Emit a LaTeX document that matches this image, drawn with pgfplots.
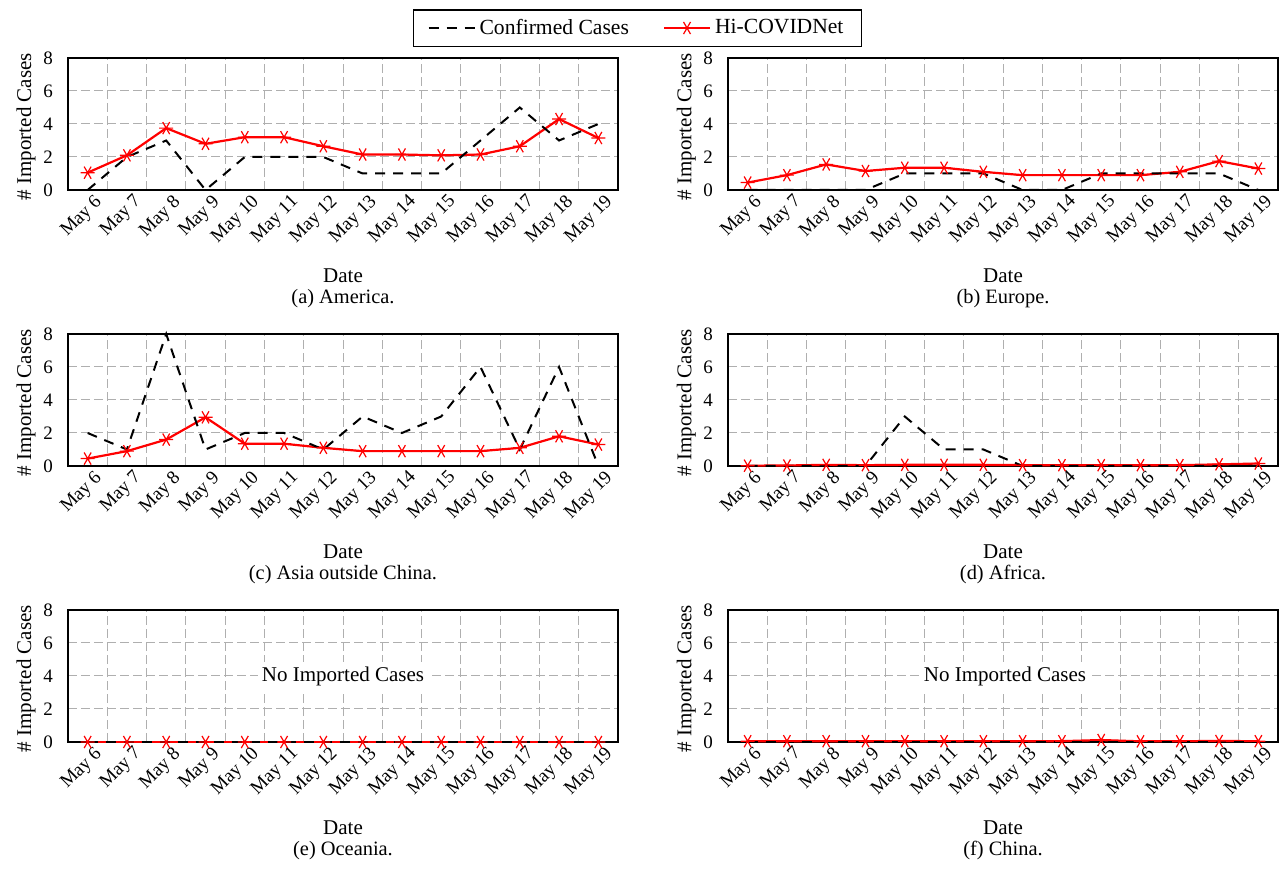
\documentclass[border=0pt]{standalone}
\usepackage{pgfplots}
\pgfplotsset{compat=1.18}
\usepackage{fontspec}
\setmainfont{Liberation Serif}
\definecolor{gridgray}{RGB}{175,175,175}

\pgfplotsset{
  panel/.style={
    scale only axis, width=275pt, height=66pt,
    anchor=south west,
    xmin=-0.5, xmax=13.5, ymin=0, ymax=8,
    xtick={0,...,13},
    xticklabels={May 6,May 7,May 8,May 9,May 10,May 11,May 12,May 13,May 14,May 15,May 16,May 17,May 18,May 19},
    ytick={0,2,4,6,8},
    minor xtick={0.5,1.5,...,12.5},
    xminorgrids=true, ymajorgrids=true,
    major grid style={gridgray, dash pattern=on 4.5pt off 2pt, line width=0.5pt},
    minor grid style={gridgray, dash pattern=on 4.5pt off 2pt, line width=0.5pt},
    major tick length=0pt, minor tick length=0pt,
    tick label style={font=\fontsize{9.5}{11}\selectfont},
    /pgf/number format/assume math mode=true,
    xticklabel style={rotate=45, anchor=north east, inner sep=1pt, yshift=-2pt, xshift=2pt},
    yticklabel style={xshift=-4pt},
    ylabel={\# Imported Cases},
    label style={font=\fontsize{10.5}{12}\selectfont},
    ylabel style={at={(axis description cs:-0.076,0.48)}, anchor=center},
    axis line style={line width=0.8pt},
    clip=false,
  },
  conf/.style={black, line width=1pt, dash pattern=on 5pt off 4pt, mark=none},
  hic/.style={red, line width=1.1pt, mark=asterisk, mark size=3.5pt, mark options={solid, rotate=90, line width=0.6pt}},
}
\newcommand{\panelcap}[1]{%
  \node[font=\fontsize{10.5}{12}\selectfont] at (axis description cs:0.5,-0.65) {Date};
  \node[font=\fontsize{10.2}{12}\selectfont] at (axis description cs:0.5,-0.82) {#1};}

\pgfplotstableread{
x a_c a_h b_c b_h c_c c_h d_c d_h e_c e_h f_c f_h
0  0 1.05 0 0.45 2 0.45 0 0.02 0 0 0 0.05
1  2 2.10 0 0.90 1 0.90 0 0.03 0 0 0 0.05
2  3 3.75 0 1.55 8 1.60 0 0.07 0 0 0 0.05
3  0 2.80 0 1.15 1 2.95 0 0.05 0 0 0 0.05
4  2 3.20 1 1.35 2 1.35 3 0.07 0 0 0 0.05
5  2 3.20 1 1.35 2 1.35 1 0.07 0 0 0 0.05
6  2 2.65 1 1.10 1 1.10 1 0.07 0 0 0 0.05
7  1 2.15 0 0.90 3 0.90 0 0.05 0 0 0 0.05
8  1 2.15 0 0.90 2 0.90 0 0.05 0 0 0 0.05
9  1 2.10 1 0.90 3 0.90 0 0.05 0 0 0 0.12
10 3 2.15 1 0.90 6 0.90 0 0.05 0 0 0 0.04
11 5 2.65 1 1.10 1 1.10 0 0.05 0 0 0 0.05
12 3 4.30 1 1.75 6 1.80 0 0.10 0 0 0 0.06
13 4 3.15 0 1.30 0 1.30 0 0.15 0 0 0 0.05
}\data

\begin{document}
\begin{tikzpicture}
\useasboundingbox (0,0) rectangle (640.5pt,-435.5pt);

% (a) America
\begin{axis}[panel, at={(34pt,-95pt)},
  reverse legend,
  legend columns=2,
  legend style={at={(axis description cs:1.0355,1.227)}, anchor=center,
    draw=black, line width=0.6pt, font=\fontsize{10.8}{12}\selectfont,
    inner xsep=7pt, inner ysep=2.5pt,
    /tikz/every even column/.append style={column sep=15pt}},
  legend image code/.code={\draw[#1, mark repeat=2, mark phase=2] plot coordinates {(0pt,0pt) (11.5pt,0pt) (23pt,0pt)};}
  ]
\addplot[hic] table[x=x,y=a_h]{\data};
\addlegendentry{Hi-COVIDNet}
\addplot[conf] table[x=x,y=a_c]{\data};
\addlegendentry{Confirmed Cases}
\panelcap{(a) America.}
\end{axis}

% (b) Europe
\begin{axis}[panel, at={(364pt,-95pt)}]
\addplot[hic] table[x=x,y=b_h]{\data};
\addplot[conf] table[x=x,y=b_c]{\data};
\panelcap{(b) Europe.}
\end{axis}

% (c) Asia
\begin{axis}[panel, at={(34pt,-233pt)}]
\addplot[hic] table[x=x,y=c_h]{\data};
\addplot[conf] table[x=x,y=c_c]{\data};
\panelcap{(c) Asia outside China.}
\end{axis}

% (d) Africa
\begin{axis}[panel, at={(364pt,-233pt)}]
\addplot[hic] table[x=x,y=d_h]{\data};
\addplot[conf] table[x=x,y=d_c]{\data};
\panelcap{(d) Africa.}
\end{axis}

% (e) Oceania
\begin{axis}[panel, at={(34pt,-371pt)}]
\node[fill=white, inner sep=2pt, font=\fontsize{10.5}{12}\selectfont] at (axis cs:6.5,4) {No Imported Cases};
\addplot[hic] table[x=x,y=e_h]{\data};
\addplot[conf] table[x=x,y=e_c]{\data};
\panelcap{(e) Oceania.}
\end{axis}

% (f) China
\begin{axis}[panel, at={(364pt,-371pt)}]
\node[fill=white, inner sep=2pt, font=\fontsize{10.5}{12}\selectfont] at (axis cs:6.55,4) {No Imported Cases};
\addplot[hic] table[x=x,y=f_h]{\data};
\addplot[conf] table[x=x,y=f_c]{\data};
\panelcap{(f) China.}
\end{axis}
\end{tikzpicture}
\end{document}
